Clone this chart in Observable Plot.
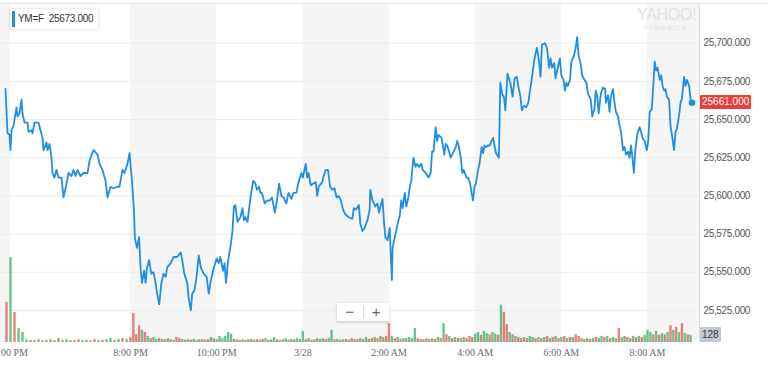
<!DOCTYPE html>
<html>
<head>
<meta charset="utf-8">
<script src="https://cdn.jsdelivr.net/npm/d3@7"></script>
<script src="https://cdn.jsdelivr.net/npm/@observablehq/plot@0.6"></script>
<style>
  body { margin: 0; background: #fff; }
  #wrap { position: relative; width: 768px; height: 367px; overflow: hidden; font-family: "Liberation Sans", Arial, sans-serif; background: #fff; }
  #wrap svg { position: absolute; left: 0; top: 0; }
  #wrap [aria-label^="x-axis"] text { font-family: "Liberation Serif", serif; font-size: 10px; fill: #6b6b6b; }
  #wrap [aria-label^="y-axis"] text { font-family: "Liberation Sans", Arial, sans-serif; font-size: 10px; fill: #555; letter-spacing: -0.35px; }
  .topline { position: absolute; left: 0; top: 3px; width: 768px; height: 1px; background: #e4e4e4; }
  .legend { position: absolute; left: 10px; top: 9px; height: 20px; padding: 0 5px 0 8px; background: #fff; box-shadow: 0 0 3px rgba(0,0,0,0.18); font-size: 10px; line-height: 20px; color: #333; letter-spacing: -0.3px; white-space: nowrap; }
  .legend .bar { position: absolute; left: 2px; top: 2px; width: 3px; height: 16px; background: #1f8ee6; }
  .wm { position: absolute; left: 637px; top: 7px; width: 58px; text-align: center; color: #e1e1e1; line-height: 1; }
  .wm .big { font-size: 16px; letter-spacing: -0.3px; }
  .wm .small { font-size: 7.5px; letter-spacing: 1.6px; margin-top: 1px; }
  .tag { position: absolute; left: 700px; height: 14px; line-height: 14px; font-size: 10px; padding: 0 2px; border-radius: 1px; white-space: nowrap; }
  .tag.price { background: #ec3b3b; color: #fff; }
  .tag.vol { background: #c3c8d1; color: #3a3a3a; height: 15px; line-height: 15px; padding: 0 2px; }
  .zoom { position: absolute; left: 337px; top: 303px; width: 52px; height: 18px; background: #fff; box-shadow: 0 1px 3px rgba(0,0,0,0.2); display: flex; align-items: center; color: #666; font-size: 15px; }
  .zoom span { flex: 1; text-align: center; line-height: 18px; }
  .zoom .sep { flex: 0 0 1px; height: 12px; background: #ddd; }
</style>
</head>
<body>
<div id="wrap"></div>
<script>
// ---------- data ----------
const symbol = "YM=F";
const headerValue = 25673.000;
const lastPrice = 25661.000;

// minutes since 6:00 PM (3/27)
const xTickMinutes = [0, 120, 240, 360, 480, 600, 720, 840];
const xTickLabels = ["6:00 PM", "8:00 PM", "10:00 PM", "3/28", "2:00 AM", "4:00 AM", "6:00 AM", "8:00 AM"];
const yTicks = [25525, 25550, 25575, 25600, 25625, 25650, 25675, 25700];
const shadedStart = [-120, 120, 360, 600, 840];
const shadedEnd = [0, 240, 480, 720, 960];

const priceMinutes = [
  -5,-3,-1,0,1,3,6,7,9,11,12,14,17,18,21,22,24,27,28,30,32,33,36,37,39,41,42,44,46,48,
  51,53,56,58,61,63,65,67,70,73,77,79,83,87,89,92,95,97,100,103,107,109,112,114,117,119,
  122,125,126,129,132,134,136,139,141,143,146,149,152,155,157,160,163,166,169,171,176,180,
  185,190,192,195,199,201,204,206,209,212,215,218,222,226,229,232,236,240,243,245,249,251,
  253,256,259,262,264,266,269,273,276,278,280,283,285,288,291,294,296,299,301,303,307,310,
  314,317,321,324,327,330,333,337,340,344,347,351,354,358,360,364,366,368,371,374,378,380,
  382,387,389,392,395,398,401,404,407,410,413,416,419,424,429,431,434,438,440,443,446,450,
  453,454,457,461,464,466,468,471,473,475,478,481,482,484,485,488,490,492,495,497,499,502,
  504,507,509,511,514,517,519,522,525,527,531,535,538,540,542,545,547,549,553,555,557,559,
  561,563,566,568,570,573,575,577,580,582,584,588,590,593,595,597,599,601,604,606,609,611,
  613,615,618,620,623,625,627,629,633,635,638,640,642,645,649,652,655,658,660,663,665,668,
  671,674,676,678,682,684,686,689,691,693,697,700,703,705,707,710,712,715,718,720,723,725,
  727,729,732,734,737,740,742,744,747,749,751,755,757,761,763,766,768,770,772,775,778,781,
  782,785,787,789,792,794,796,799,801,803,806,808,810,813,815,817,819,821,823,826,829,831,
  833,836,839,841,843,846,848,850,852,854,857,859,861,863,865,867,870,872,874,877,879,881,
  884,886,888,891,893,895,898,900,902
];
const priceValues = [
  25670,25641,25640,25630,25643,25646,25658,25652,25654,25663,25654,25648,25648,25642,25643,25641,25648,25648,25648,25643,25638,25630,25635,25630,25634,25625,25615,25612,25617,25612,
  25612,25599,25608,25615,25613,25617,25613,25617,25613,25615,25615,25623,25630,25627,25621,25617,25610,25599,25606,25605,25606,25606,25617,25615,25621,25628,
  25610,25589,25573,25566,25573,25553,25543,25551,25543,25553,25558,25549,25550,25543,25536,25529,25543,25549,25547,25553,25556,25560,
  25560,25563,25558,25549,25543,25533,25525,25536,25538,25547,25561,25553,25549,25547,25536,25545,25553,25559,25556,25560,25551,25556,
  25543,25558,25566,25577,25593,25594,25583,25586,25592,25584,25586,25583,25591,25602,25610,25608,25604,25606,25602,25602,25595,25597,
  25597,25599,25589,25597,25608,25600,25599,25595,25602,25598,25602,25602,25609,25615,25612,25621,25612,25615,25607,25608,25609,25600,
  25606,25609,25613,25617,25617,25606,25604,25605,25599,25600,25597,25591,25588,25586,25585,25592,25591,25594,25582,25577,25579,25584,
  25591,25604,25597,25593,25595,25589,25593,25598,25583,25573,25571,25579,25566,25545,25566,25573,25577,25582,25587,25597,25592,25602,
  25593,25599,25606,25610,25625,25619,25621,25619,25621,25617,25615,25612,25615,25629,25629,25645,25636,25640,25638,25633,25627,25634,
  25633,25630,25625,25627,25629,25632,25636,25633,25625,25615,25617,25612,25612,25608,25602,25597,25606,25608,25617,25621,25632,25628,
  25633,25632,25633,25633,25636,25638,25633,25628,25625,25674,25666,25665,25656,25680,25674,25665,25677,25678,25672,25665,25656,25659,
  25658,25661,25668,25674,25688,25693,25697,25688,25678,25699,25700,25697,25684,25690,25684,25687,25677,25684,25690,25679,25676,25669,
  25674,25672,25676,25688,25691,25697,25704,25692,25686,25679,25677,25674,25667,25663,25652,25657,25669,25665,25654,25667,25671,25670,
  25661,25666,25655,25665,25670,25661,25655,25652,25646,25642,25630,25632,25627,25629,25625,25633,25625,25615,25630,25641,25645,25642,
  25638,25636,25630,25636,25655,25657,25672,25688,25682,25684,25676,25679,25672,25669,25670,25665,25663,25646,25640,25630,25642,25644,
  25653,25661,25664,25678,25672,25676,25672,25663,25661
];

// volume bars every 4 minutes starting at -4; sign: + up bar (green), - down bar (red)
const volumeStartMinute = -4;
const volumeStepMinutes = 4;
const volumes = [
  -720,1530,-540,250,180,50,-40,40,-50,35,-40,50,-35,70,-40,50,-35,40,-50,35,-40,35,-55,35,-40,50,70,-40,55,-70,55,
  -90,-520,-140,-300,220,-180,110,-70,90,55,-70,55,-50,70,-50,40,-90,-70,55,-40,50,-40,55,-35,50,-50,40,-50,90,70,
  -50,110,70,110,180,150,-55,50,-40,50,-40,50,-55,40,-50,40,-55,70,-40,50,90,-50,40,-50,70,-40,55,-50,70,55,
  200,-50,70,-40,50,-70,55,70,-50,70,220,-50,55,-40,50,-55,40,-70,55,-50,70,-55,90,-55,70,-90,70,-110,90,-110,
  -340,110,-70,90,-55,70,-70,90,70,250,-70,55,-50,70,-55,70,-55,90,-70,340,-140,110,-70,90,-70,70,-90,70,-110,-90,
  150,180,-130,200,160,-140,180,150,-130,670,-540,-320,180,-140,110,-90,-70,90,-70,110,90,-70,90,-70,90,-110,
  70,-90,110,-70,90,-110,70,-90,90,-140,-110,70,-55,70,-55,70,-90,70,110,-90,110,-70,90,70,-250,90,-110,90,-70,
  110,-90,110,-90,130,220,180,-140,200,-130,160,-140,180,-300,220,-270,180,-340,160,-140,128
];

// ---------- build ----------
const labelByMinute = new Map(xTickMinutes.map((m, i) => [m, xTickLabels[i]]));
const prices = priceMinutes.map((m, i) => ({t: m, p: priceValues[i]}));
const bands = shadedStart.map((s, i) => ({s, e: shadedEnd[i]}));
const vols = volumes.map((v, i) => ({t: volumeStartMinute + i * volumeStepMinutes, v: Math.abs(v), up: v >= 0}));
const last = prices[prices.length - 1];

const xOpts = {type: "linear", domain: [-10, 0, 120, 912.4], range: [0, 10, 130, 699], clamp: true};
const blue = "#1f8ee6";

const priceChart = Plot.plot({
  width: 768, height: 367,
  marginLeft: 0, marginRight: 69, marginTop: 3, marginBottom: 25,
  style: {background: "transparent"},
  x: {...xOpts, ticks: xTickMinutes, tickFormat: d => labelByMinute.get(d), tickSize: 0, tickPadding: 6, label: null},
  y: {domain: [25504, 25726], range: [342, 3], axis: "right", ticks: yTicks, tickFormat: d3.format(",.3f"), tickSize: 0, tickPadding: 4, label: null},
  marks: [
    Plot.rect(bands, {x1: "s", x2: "e", fill: "#f5f5f5"}),
    Plot.ruleY(yTicks, {stroke: "#ececec"}),
    Plot.ruleX([912.4], {stroke: "#dcdcdc"}),
    Plot.line(prices, {x: "t", y: "p", stroke: blue, strokeWidth: 1.8, strokeLinejoin: "round"}),
    Plot.dot([last], {x: "t", y: "p", r: 3.3, fill: blue, stroke: "none"})
  ]
});

const volChart = Plot.plot({
  width: 768, height: 367,
  marginLeft: 0, marginRight: 69, marginTop: 3, marginBottom: 25,
  style: {background: "transparent"},
  x: {...xOpts, axis: null},
  y: {domain: [0, 1800], range: [342, 242], axis: null},
  marks: [
    Plot.ruleX(vols, {x: "t", y1: 0, y2: "v", stroke: d => d.up ? "#3aae66" : "#e2574f", strokeWidth: 2.4, strokeOpacity: 0.75})
  ]
});

const wrap = document.getElementById("wrap");
wrap.append(priceChart);
wrap.append(volChart);

const topline = document.createElement("div");
topline.className = "topline";
wrap.append(topline);

const legend = document.createElement("div");
legend.className = "legend";
legend.innerHTML = `<div class="bar"></div>${symbol}&nbsp; ${headerValue.toFixed(3)}`;
wrap.append(legend);

const wm = document.createElement("div");
wm.className = "wm";
wm.innerHTML = `<div class="big">YAHOO!</div><div class="small">FINANCE</div>`;
wrap.append(wm);

const ys = priceChart.scale("y");
const yPx = ys && ys.apply ? ys.apply(lastPrice) : d3.scaleLinear([25504, 25726], [342, 3])(lastPrice);
const ptag = document.createElement("div");
ptag.className = "tag price";
ptag.style.top = (yPx - 7) + "px";
ptag.textContent = lastPrice.toFixed(3);
wrap.append(ptag);

const lastVol = vols[vols.length - 1];
const vs = volChart.scale("y");
const vPx = vs && vs.apply ? vs.apply(lastVol.v) : d3.scaleLinear([0, 1800], [342, 242])(lastVol.v);
const vtag = document.createElement("div");
vtag.className = "tag vol";
vtag.style.top = (vPx - 7.5) + "px";
vtag.textContent = String(lastVol.v);
wrap.append(vtag);

const zoom = document.createElement("div");
zoom.className = "zoom";
zoom.innerHTML = `<span>\u2212</span><div class="sep"></div><span>+</span>`;
wrap.append(zoom);
</script>
</body>
</html>
